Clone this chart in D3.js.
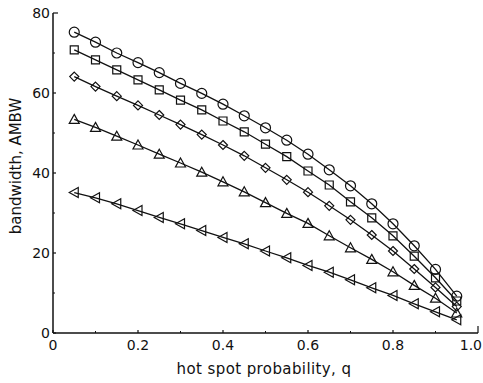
<!DOCTYPE html>
<html>
<head>
<meta charset="utf-8">
<script src="https://cdn.jsdelivr.net/npm/d3@7"></script>
<style>
  body { margin: 0; background: #fff; }
  svg { display: block; }
  text { font-family: "DejaVu Sans", sans-serif; fill: #111; }
</style>
</head>
<body>
<div id="graphic"></div>
<script>
// hot spot probability values (x)
const q = [0.05, 0.10, 0.15, 0.20, 0.25, 0.30, 0.35, 0.40, 0.45, 0.50,
           0.55, 0.60, 0.65, 0.70, 0.75, 0.80, 0.85, 0.90, 0.95];

// bandwidth series
const circles   = [75.2, 72.7, 70.0, 67.6, 65.1, 62.4, 59.9, 57.2, 54.3, 51.3,
                   48.2, 44.7, 40.8, 36.8, 32.3, 27.3, 21.8, 15.9, 9.2];
const squares   = [70.8, 68.3, 65.8, 63.3, 60.8, 58.2, 55.8, 53.0, 50.3, 47.2,
                   44.1, 40.5, 37.0, 32.8, 28.8, 24.3, 19.2, 13.8, 8.0];
const diamonds  = [64.1, 61.6, 59.2, 56.9, 54.5, 52.1, 49.6, 47.0, 44.3, 41.3,
                   38.3, 35.2, 31.8, 28.3, 24.5, 20.5, 16.0, 11.4, 6.6];
const triangles = [53.4, 51.4, 49.2, 47.0, 44.7, 42.5, 40.2, 37.8, 35.3, 32.6,
                   29.9, 27.4, 24.3, 21.3, 18.4, 15.3, 11.9, 8.7, 5.0];
const leftTris  = [35.1, 33.8, 32.3, 30.6, 28.9, 27.3, 25.6, 23.9, 22.3, 20.5,
                   18.8, 16.9, 15.2, 13.3, 11.3, 9.4, 7.3, 5.3, 3.3];

const xTicks = [0, 0.2, 0.4, 0.6, 0.8, 1.0];
const yTicks = [0, 20, 40, 60, 80];

const series = [
  { values: circles,   shape: "circle" },
  { values: squares,   shape: "square" },
  { values: diamonds,  shape: "diamond" },
  { values: triangles, shape: "triangle" },
  { values: leftTris,  shape: "left" }
];

const W = 483, H = 383;
const svg = d3.select("#graphic").append("svg")
  .attr("width", W)
  .attr("height", H);

const x = d3.scaleLinear().domain([0, 1]).range([53, 478]);
const y = d3.scaleLinear().domain([0, 80]).range([333, 13]);

// axes: only left and bottom, ticks pointing inwards
const gx = svg.append("g").attr("transform", `translate(0,${y(0)})`);
gx.append("line").attr("x1", x(0)).attr("x2", x(1)).attr("stroke", "#111").attr("stroke-width", 1.5);
gx.selectAll(".major").data(xTicks).enter().append("line")
  .attr("x1", d => x(d)).attr("x2", d => x(d))
  .attr("y1", 0).attr("y2", d => d === 1 ? -7 : -3)
  .attr("stroke", "#111").attr("stroke-width", 1.2);
gx.selectAll(".minor").data(d3.range(0.1, 1, 0.2)).enter().append("line")
  .attr("x1", d => x(d)).attr("x2", d => x(d))
  .attr("y1", 0).attr("y2", -2)
  .attr("stroke", "#111").attr("stroke-width", 1);
// last label sits against the right edge, as in the original
gx.selectAll("text").data(xTicks).enter().append("text")
  .attr("x", d => d === 1 ? W - 1 : x(d)).attr("y", 17)
  .attr("text-anchor", d => d === 1 ? "end" : "middle")
  .style("font-size", "14px")
  .text(d => d === 0 ? "0" : d.toFixed(1));

const gy = svg.append("g").attr("transform", `translate(${x(0)},0)`);
gy.append("line").attr("y1", y(0)).attr("y2", y(80)).attr("stroke", "#111").attr("stroke-width", 1.5);
gy.selectAll(".major").data(yTicks).enter().append("line")
  .attr("y1", d => y(d)).attr("y2", d => y(d))
  .attr("x1", 0).attr("x2", d => d === 80 ? 5 : 3)
  .attr("stroke", "#111").attr("stroke-width", 1.2);
gy.selectAll(".minor").data([10, 30, 50, 70]).enter().append("line")
  .attr("y1", d => y(d)).attr("y2", d => y(d))
  .attr("x1", 0).attr("x2", 2)
  .attr("stroke", "#111").attr("stroke-width", 1);
gy.selectAll("text").data(yTicks).enter().append("text")
  .attr("x", -3).attr("y", d => y(d) + 5)
  .attr("text-anchor", "end")
  .style("font-size", "14px")
  .text(d => d);

// axis titles
svg.append("text")
  .attr("x", 264).attr("y", 374)
  .attr("text-anchor", "middle")
  .style("font-size", "15px")
  .style("letter-spacing", "0.4px")
  .text("hot spot probability, q");

svg.append("text")
  .attr("transform", "translate(21,166) rotate(-90)")
  .attr("text-anchor", "middle")
  .style("font-size", "15px")
  .text("bandwidth, AMBW");

// lines + markers
const line = d3.line().x((d, i) => x(q[i])).y(d => y(d));

const symbolPath = {
  circle:   "M5,0A5,5 0 1,1 -5,0A5,5 0 1,1 5,0Z",
  square:   "M-4,-4H4V4H-4Z",
  diamond:  "M0,-4.5L4.5,0L0,4.5L-4.5,0Z",
  triangle: "M0,-5L5,4H-5Z",
  left:     "M-5,0L4,-5V5Z"
};

series.forEach(s => {
  svg.append("path")
    .datum(s.values)
    .attr("d", line)
    .attr("fill", "none")
    .attr("stroke", "#111")
    .attr("stroke-width", 1.3);

  svg.selectAll(null).data(s.values).enter().append("path")
    .attr("transform", (d, i) => `translate(${x(q[i])},${y(d)})`)
    .attr("d", symbolPath[s.shape])
    .attr("fill", "none")
    .attr("stroke", "#111")
    .attr("stroke-width", 1.2);
});
</script>
</body>
</html>
